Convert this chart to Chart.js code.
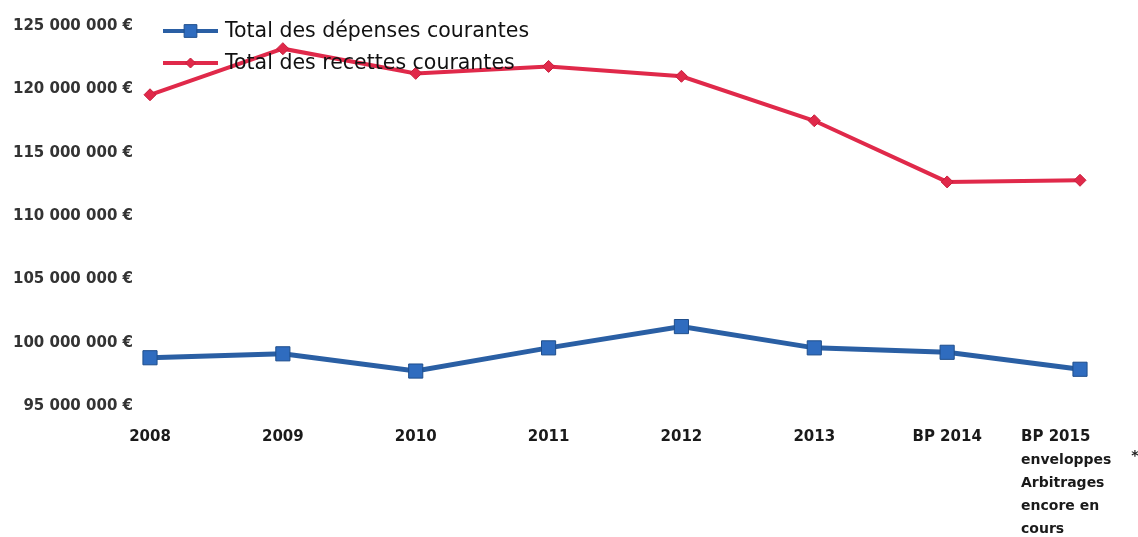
<!DOCTYPE html>
<html><head><meta charset="utf-8">
<script src="https://cdn.jsdelivr.net/npm/chart.js@4.4.1/dist/chart.umd.min.js"></script>
<style>html,body{margin:0;padding:0;background:#fff;} canvas{display:block}</style>
</head><body>
<canvas id="c" width="1138" height="537"></canvas>
<script>
const categories = ['2008','2009','2010','2011','2012','2013','BP 2014',['BP 2015','enveloppes','Arbitrages','encore en','cours']];
const depenses = [98810000, 99120000, 97760000, 99590000, 101270000, 99590000, 99240000, 97900000];
const recettes = [119570000, 123210000, 121260000, 121810000, 121030000, 117520000, 112690000, 112820000];
const yTicks = [95000000, 100000000, 105000000, 110000000, 115000000, 120000000, 125000000];
const seriesNames = ['Total des dépenses courantes', 'Total des recettes courantes'];
const footnote = '*';

const BLUE = '#2a5fa4', BLUE_PT = '#2f6cbf', BLUE_BD = '#1f4e8c';
const RED = '#e0294a', RED_PT = '#e0294a';
const tickFont = {family: 'DejaVu Sans', size: 15, weight: 'bold'};

function fmt(v){ return String(v).replace(/\B(?=(\d{3})+(?!\d))/g, ' ') + ' €'; }

const legendPlugin = {
  id: 'customLegend',
  afterDatasetsDraw(chart){
    const ctx = chart.ctx, ca = chart.chartArea;
    const x0 = ca.left + 13, x1 = x0 + 55;
    chart.data.datasets.forEach((ds, i) => {
      const y = ca.top + 5 + i * 32;
      ctx.save();
      ctx.strokeStyle = ds.borderColor; ctx.lineWidth = 4;
      ctx.beginPath(); ctx.moveTo(x0, y); ctx.lineTo(x1, y); ctx.stroke();
      ctx.fillStyle = ds.pointBackgroundColor; ctx.strokeStyle = ds.pointBorderColor;
      ctx.lineWidth = ds.pointBorderWidth;
      Chart.helpers.drawPoint(ctx, {pointStyle: ds.pointStyle, radius: ds.pointRadius - 1, borderWidth: ds.pointBorderWidth}, (x0 + x1) / 2, y);
      ctx.fillStyle = '#111'; ctx.font = '20.5px "DejaVu Sans"';
      ctx.textBaseline = 'middle'; ctx.textAlign = 'left';
      ctx.fillText(ds.label, x1 + 7, y + 1);
      ctx.restore();
    });
  }
};

const lastLabelPlugin = {
  id: 'lastLabel',
  afterDraw(chart){
    const xs = chart.scales.x, ctx = chart.ctx;
    const idx = categories.length - 1;
    const lines = categories[idx];
    const cx = xs.getPixelForValue(idx);
    ctx.save();
    ctx.fillStyle = '#1a1a1a'; ctx.textAlign = 'left'; ctx.textBaseline = 'middle';
    const left = cx - 59;
    const top = xs.top + 31;
    lines.forEach((ln, i) => {
      ctx.font = (i === 0 ? 'bold 15px' : 'bold 14px') + ' "DejaVu Sans"';
      ctx.fillText(ln, left, top + i * 23);
    });
    ctx.font = 'bold 14px "DejaVu Sans"';
    const w = ctx.measureText(lines[1]).width;
    ctx.fillText(footnote, left + w + 20, top + 23 - 4);
    ctx.restore();
  }
};

new Chart(document.getElementById('c'), {
  type: 'line',
  data: {
    labels: categories,
    datasets: [
      {label: seriesNames[0], data: depenses, borderColor: BLUE, borderWidth: 5,
       pointStyle: 'rect', pointRadius: 10, pointBackgroundColor: BLUE_PT, pointBorderColor: BLUE_BD, pointBorderWidth: 1,
       tension: 0, clip: false},
      {label: seriesNames[1], data: recettes, borderColor: RED, borderWidth: 4,
       pointStyle: 'rectRot', pointRadius: 6, pointBackgroundColor: RED_PT, pointBorderColor: '#c81e3c', pointBorderWidth: 1,
       tension: 0, clip: false}
    ]
  },
  options: {
    responsive: false, animation: false,
    layout: {padding: {top: 20, right: 58, left: 0, bottom: 0}},
    plugins: {legend: {display: false}, tooltip: {enabled: false}},
    scales: {
      x: {
        grid: {display: false, drawTicks: false}, border: {display: false},
        ticks: {font: tickFont, color: '#1a1a1a', padding: 22, maxRotation: 0, autoSkip: false,
          callback: function(v, i){ return i === categories.length - 1 ? '' : this.getLabelForValue(v); }},
        afterFit(s){ s.height = 131; }
      },
      y: {
        min: yTicks[0], max: yTicks[yTicks.length - 1],
        grid: {display: false, drawTicks: false}, border: {display: false},
        afterBuildTicks(s){ s.ticks = yTicks.map(v => ({value: v})); },
        ticks: {font: {family: 'DejaVu Sans', size: 15, weight: 'bold'}, color: '#333', padding: 17,
          callback: v => fmt(v)},
        afterFit(s){ s.width = 150; }
      }
    }
  },
  plugins: [legendPlugin, lastLabelPlugin]
});
</script>
</body></html>
